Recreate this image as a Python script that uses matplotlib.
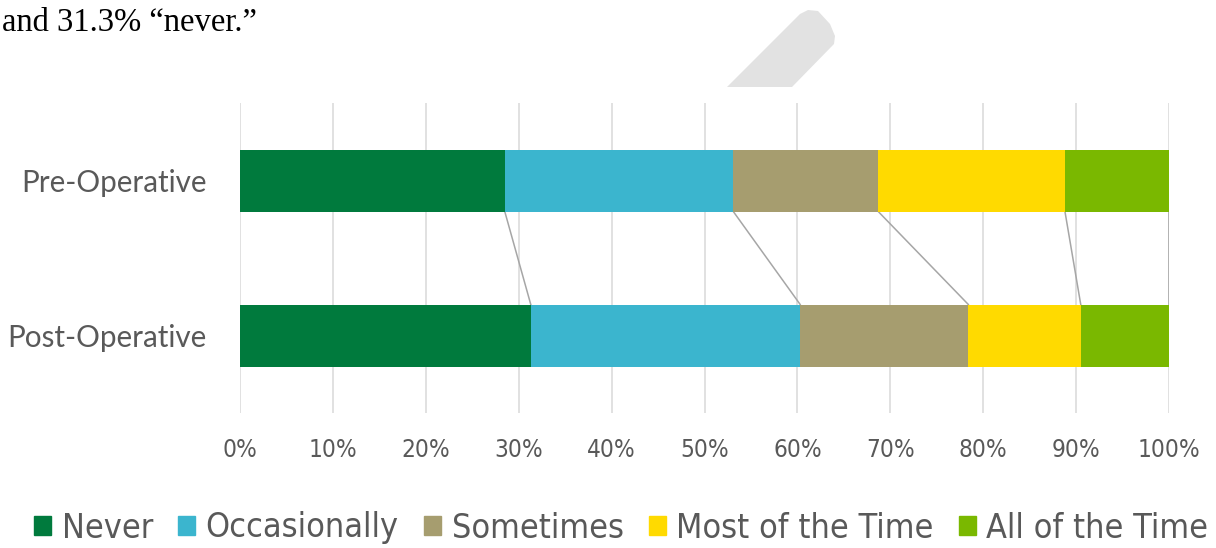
import numpy as np
import matplotlib
matplotlib.use('Agg')
import matplotlib.pyplot as plt
from matplotlib import font_manager
from matplotlib.patches import Polygon
from matplotlib.transforms import IdentityTransform

# data (percent of patients per answer)
categories = ['Pre-Operative', 'Post-Operative']
answers = ['Never', 'Occasionally', 'Sometimes', 'Most of the Time', 'All of the Time']
pre_vals = [28.5, 24.6, 15.6, 20.1, 11.2]
post_vals = [31.3, 29.0, 18.1, 12.1, 9.5]
tick_values = list(range(0, 101, 10))
tick_labels = ['%d%%' % v for v in tick_values]

colors = ['#007A3D', '#3BB5CE', '#A69D6F', '#FFDA00', '#7AB800']
grey_txt = '#595959'

# narrow font if there is one
fonts = font_manager.fontManager.ttflist
names = {f.name for f in fonts}
if 'Liberation Sans Narrow' in names:
    narrow = {'family': 'Liberation Sans Narrow'}
    leg_size, tick_size = 27, 19
elif any(f.name == 'DejaVu Sans' and f.stretch == 'condensed' for f in fonts):
    narrow = {'family': 'DejaVu Sans', 'stretch': 'condensed'}
    leg_size, tick_size = 24.5, 17.5
else:
    narrow = {'family': 'Lato'}
    leg_size, tick_size = 22.5, 17

W, H = 1216, 548
fig = plt.figure(figsize=(W / 100, H / 100), dpi=100)
fig.patch.set_facecolor('white')

ax = fig.add_axes([240 / W, 1 - 413 / H, 929 / W, 310 / H])

y_pos = [1, 0]
bar_h = 0.4
all_vals = [pre_vals, post_vals]
for yi, vals in zip(y_pos, all_vals):
    left = 0
    for v, c in zip(vals, colors):
        ax.barh(yi, v, left=left, height=bar_h, color=c, lw=0, zorder=3)
        left += v

# series lines between the two bars
cum_pre = np.cumsum(pre_vals)
cum_post = np.cumsum(post_vals)
for a, b in zip(cum_pre, cum_post):
    ax.plot([a, b], [1 - bar_h / 2, 0 + bar_h / 2], color='#A6A6A6', lw=1.1, zorder=2)

ax.set_xlim(0, 100)
ax.set_ylim(-0.5, 1.5)
ax.set_xticks(tick_values)
ax.set_xticklabels(tick_labels, color=grey_txt, fontsize=tick_size, **narrow)
ax.set_yticks(y_pos)
ax.set_yticklabels(categories, color=grey_txt, fontsize=21.3, family=['Lato', 'DejaVu Sans'])
ax.tick_params(axis='x', length=0, pad=18)
ax.tick_params(axis='y', length=0, pad=24)
ax.grid(axis='x', color='#D9D9D9', lw=1.1, zorder=0)
for s in ax.spines.values():
    s.set_visible(False)

# legend
handles = [plt.Rectangle((0, 0), 1, 1, color=c) for c in colors]
leg_prop = dict(narrow)
leg_prop['size'] = leg_size
fig.legend(handles, answers, loc='center', bbox_to_anchor=(0.511, 1 - 528 / H), ncol=5,
           frameon=False, handlelength=0.5, handleheight=0.5, handletextpad=0.3,
           columnspacing=0.75, prop=leg_prop, labelcolor=grey_txt)

# text from the page above the chart
fig.text(2 / W, 1 - 31 / H, 'and 31.3% \u201cnever.\u201d', fontsize=23.5,
         family=['Liberation Serif', 'DejaVu Serif'], color='black', va='baseline', ha='left')

# grey page mark at the top
pts = [(727, 87), (800, 14), (808, 10), (818, 11), (830, 24), (835, 36), (834, 44), (792, 87)]
pts = [(x, H - y) for x, y in pts]
fig.patches.append(Polygon(pts, closed=True, transform=IdentityTransform(),
                           facecolor='#E2E2E2', edgecolor='none', figure=fig))

fig.savefig('out.png', dpi=100)
